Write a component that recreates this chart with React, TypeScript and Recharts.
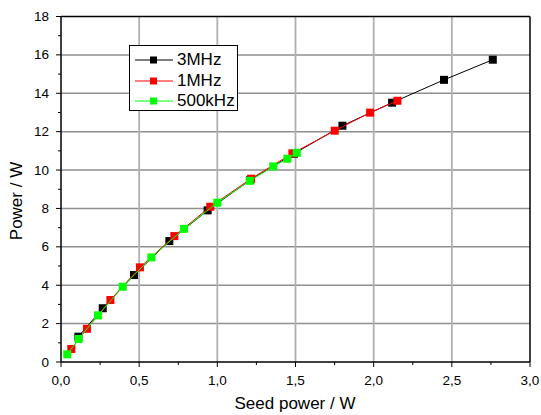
import React from 'react';
import { ScatterChart, Scatter, XAxis, YAxis, ReferenceLine, Legend } from 'recharts';

const FONT = '"Liberation Sans", Arial, sans-serif';

// Seed power (W) and output power (W) per repetition rate
const mhz3X = [0.111, 0.267, 0.467, 0.693, 0.938, 1.21, 1.49, 1.80, 2.118, 2.45, 2.762];
const mhz3Y = [1.32, 2.80, 4.53, 6.30, 7.90, 9.48, 10.85, 12.31, 13.51, 14.70, 15.75];

const mhz1X = [0.066, 0.166, 0.316, 0.505, 0.725, 0.955, 1.216, 1.48, 1.751, 1.977, 2.152];
const mhz1Y = [0.68, 1.73, 3.23, 4.93, 6.56, 8.09, 9.55, 10.87, 12.05, 12.99, 13.61];

const khz500X = [0.040, 0.113, 0.237, 0.395, 0.578, 0.787, 1.0, 1.207, 1.358, 1.448, 1.508];
const khz500Y = [0.40, 1.20, 2.43, 3.92, 5.45, 6.94, 8.30, 9.44, 10.19, 10.59, 10.90];

const seriesNames = ['3MHz', '1MHz', '500kHz'];
const seriesColors = ['#000000', '#ff0000', '#00ff00'];

const xTicks = [0, 0.25, 0.5, 0.75, 1, 1.25, 1.5, 1.75, 2, 2.25, 2.5, 2.75, 3];
const xMajor = [0.5, 1, 1.5, 2, 2.5];
const yTicks = [0, 1, 2, 3, 4, 5, 6, 7, 8, 9, 10, 11, 12, 13, 14, 15, 16, 17, 18];
const yMajor = [2, 4, 6, 8, 10, 12, 14, 16];

const toPoints = (xs: number[], ys: number[]) => xs.map((x, i) => ({ x, y: ys[i] }));
const seriesData = [toPoints(mhz3X, mhz3Y), toPoints(mhz1X, mhz1Y), toPoints(khz500X, khz500Y)];

const isMajorX = (v: number) => Math.abs(v * 2 - Math.round(v * 2)) < 1e-6;

const YTick = (props: any) => {
  const { x, y, payload } = props;
  const v = Number(payload.value);
  const major = v % 2 === 0;
  return (
    <g>
      <line x1={x} x2={x - (major ? 5 : 3)} y1={y} y2={y} stroke="#000" strokeWidth={1} />
      {major && (
        <text x={x - 12} y={y} textAnchor="end" dominantBaseline="central" fontFamily={FONT} fontSize={13.5} fill="#000">
          {v}
        </text>
      )}
    </g>
  );
};

const XTick = (props: any) => {
  const { x, y, payload } = props;
  const v = Number(payload.value);
  const major = isMajorX(v);
  return (
    <g>
      <line x1={x} x2={x} y1={y} y2={y + (major ? 5 : 3)} stroke="#000" strokeWidth={1} />
      {major && (
        <text x={x} y={y + 23} textAnchor="middle" fontFamily={FONT} fontSize={13.5} fill="#000">
          {v.toFixed(1).replace('.', ',')}
        </text>
      )}
    </g>
  );
};

const YTitle = () => (
  <text x={16} y={201} transform="rotate(-90 16 201)" textAnchor="middle" dominantBaseline="central" fontFamily={FONT} fontSize={17} fill="#000">
    Power / W
  </text>
);

const XTitle = () => (
  <text x={295} y={409} textAnchor="middle" fontFamily={FONT} fontSize={17} fill="#000">
    Seed power / W
  </text>
);

const Square = (color: string) => (props: any) => {
  const { cx, cy } = props;
  if (cx == null || cy == null) return null;
  return <rect x={cx - 4} y={cy - 4} width={8} height={8} fill={color} />;
};

const LegendBox = () => (
  <div
    style={{
      position: 'relative',
      width: 109,
      height: 66,
      boxSizing: 'border-box',
      border: '1px solid #000',
      background: '#fff',
      fontFamily: FONT,
      fontSize: 17,
      color: '#000',
    }}
  >
    {seriesNames.map((name, i) => (
      <div key={name} style={{ position: 'absolute', left: 0, top: 14 + i * 20.5 - 10, height: 20, width: 107 }}>
        <svg width={46} height={20} style={{ position: 'absolute', left: 0, top: 0 }}>
          <line x1={5} x2={43} y1={10} y2={10} stroke={seriesColors[i]} strokeWidth={1} />
          <rect x={20} y={6.5} width={7} height={7} fill={seriesColors[i]} />
        </svg>
        <span style={{ position: 'absolute', left: 47, top: 0, lineHeight: '20px', whiteSpace: 'nowrap' }}>{name}</span>
      </div>
    ))}
  </div>
);

export default function App() {
  return (
    <div style={{ position: 'fixed', left: 0, top: 0, width: 541, height: 415, background: '#fff' }}>
      <ScatterChart width={541} height={415} margin={{ top: 16.5, right: 11, left: 0, bottom: 0 }}>
        {yMajor.map((v) => (
          <ReferenceLine key={'gy' + v} y={v} stroke="#8f8f8f" strokeWidth={1.5} />
        ))}
        {xMajor.map((v) => (
          <ReferenceLine key={'gx' + v} x={v} stroke="#b0b0b0" strokeWidth={1.8} />
        ))}
        <ReferenceLine y={18} stroke="#000" strokeWidth={1.5} />
        <ReferenceLine x={3} stroke="#000" strokeWidth={1.5} />
        <XAxis
          type="number"
          dataKey="x"
          domain={[0, 3]}
          ticks={xTicks}
          interval={0}
          height={53}
          tickSize={0}
          tickMargin={0}
          tickLine={false}
          axisLine={{ stroke: '#000', strokeWidth: 1.5 }}
          tick={<XTick />}
          label={<XTitle />}
        />
        <YAxis
          type="number"
          dataKey="y"
          domain={[0, 18]}
          ticks={yTicks}
          interval={0}
          width={61}
          tickSize={0}
          tickMargin={0}
          tickLine={false}
          axisLine={{ stroke: '#000', strokeWidth: 1.5 }}
          tick={<YTick />}
          label={<YTitle />}
        />
        <Legend
          layout="vertical"
          align="center"
          verticalAlign="middle"
          content={<LegendBox />}
          wrapperStyle={{ left: 129, top: 45, width: 109, height: 66 }}
        />
        {seriesData.map((d, i) => (
          <Scatter
            key={seriesNames[i]}
            name={seriesNames[i]}
            data={d}
            fill={seriesColors[i]}
            line={{ stroke: seriesColors[i], strokeWidth: 1 }}
            shape={Square(seriesColors[i])}
            isAnimationActive={false}
          />
        ))}
      </ScatterChart>
    </div>
  );
}
